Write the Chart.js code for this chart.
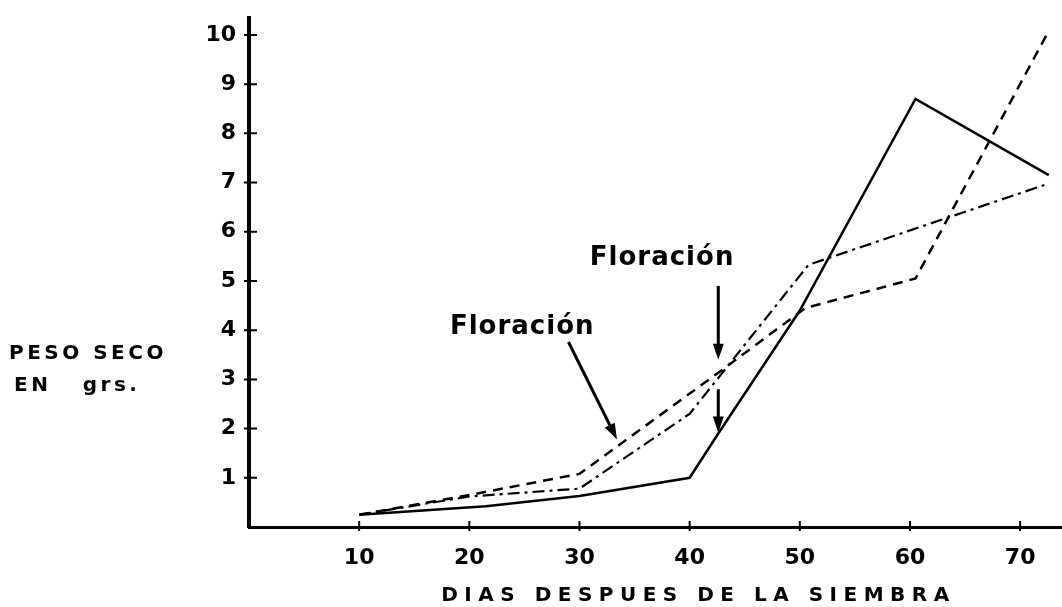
<!DOCTYPE html>
<html>
<head>
<meta charset="utf-8">
<script src="https://cdn.jsdelivr.net/npm/chart.js@4.4.1/dist/chart.umd.min.js"></script>
<style>
  html, body { margin: 0; padding: 0; background: #fff; }
  #wrap { width: 1062px; height: 607px; }
</style>
</head>
<body>
<div id="wrap"><canvas id="mycanvas" width="1062" height="607"></canvas></div>
<script>
// days after sowing / dry weight (grs)
var dias_solida = [10, 21.5, 30, 40, 42.6, 50, 60.5, 72.6];
var peso_solida = [0.25, 0.42, 0.63, 1.0, 1.9, 4.4, 8.7, 7.15];

var dias_guiones = [10, 20, 30, 43, 50.5, 60.5, 72.4];
var peso_guiones = [0.25, 0.65, 1.08, 3.2, 4.45, 5.05, 10.0];

var dias_punto = [10, 20, 30, 40, 50.8, 72.2];
var peso_punto = [0.25, 0.62, 0.78, 2.3, 5.33, 6.95];

var ticks_x = [10, 20, 30, 40, 50, 60, 70];
var ticks_y = [1, 2, 3, 4, 5, 6, 7, 8, 9, 10];

var titulo_x = 'DIAS DESPUES DE LA SIEMBRA';
var titulo_y = ['PESO SECO', 'EN   grs.'];
var nota = 'Floración';

// annotation anchors in data units (x = days, y = grs)
var notas = [
    { texto: nota, x: 24.8, y: 4.06, flechas: [[29.0, 3.76, 33.4, 1.78]] },
    { texto: nota, x: 37.5, y: 5.47, flechas: [[42.6, 4.9, 42.6, 3.4], [42.6, 2.8, 42.6, 1.92]] }
];

function pares(xs, ys) {
    var out = [];
    for (var i in xs) {
        out.push({ x: xs[i], y: ys[i] });
    }
    return out;
}

function flecha(ctx, x1, y1, x2, y2) {
    var ang = Math.atan2(y2 - y1, x2 - x1);
    var largo = 16, ancho = 5.5;
    ctx.beginPath();
    ctx.moveTo(x1, y1);
    ctx.lineTo(x2 - Math.cos(ang) * largo * 0.6, y2 - Math.sin(ang) * largo * 0.6);
    ctx.stroke();
    ctx.beginPath();
    ctx.moveTo(x2, y2);
    ctx.lineTo(x2 - Math.cos(ang) * largo - Math.sin(ang) * ancho, y2 - Math.sin(ang) * largo + Math.cos(ang) * ancho);
    ctx.lineTo(x2 - Math.cos(ang) * largo + Math.sin(ang) * ancho, y2 - Math.sin(ang) * largo - Math.cos(ang) * ancho);
    ctx.closePath();
    ctx.fill();
}

var dibujoExtra = {
    id: 'dibujoExtra',
    afterDraw: function (chart) {
        var ctx = chart.ctx;
        var sx = chart.scales.x, sy = chart.scales.y;
        var area = chart.chartArea;
        ctx.save();
        ctx.strokeStyle = '#000';
        ctx.fillStyle = '#000';

        // cross ticks on both axes
        ctx.lineWidth = 2;
        ctx.beginPath();
        for (var i in ticks_y) {
            var py = sy.getPixelForValue(ticks_y[i]);
            ctx.moveTo(area.left - 5, py);
            ctx.lineTo(area.left + 8, py);
        }
        for (var j in ticks_x) {
            var px = sx.getPixelForValue(ticks_x[j]);
            ctx.moveTo(px, area.bottom - 6);
            ctx.lineTo(px, area.bottom + 4);
        }
        ctx.stroke();

        // Floración notes with arrows
        ctx.font = 'bold 26px "DejaVu Sans"';
        ctx.textAlign = 'center';
        ctx.textBaseline = 'middle';
        ctx.letterSpacing = '1px';
        ctx.lineWidth = 3;
        for (var k in notas) {
            var n = notas[k];
            ctx.fillText(n.texto, sx.getPixelForValue(n.x), sy.getPixelForValue(n.y));
            for (var f in n.flechas) {
                var a = n.flechas[f];
                flecha(ctx, sx.getPixelForValue(a[0]), sy.getPixelForValue(a[1]),
                    sx.getPixelForValue(a[2]), sy.getPixelForValue(a[3]));
            }
        }

        // axis titles
        ctx.font = 'bold 20px "DejaVu Sans"';
        ctx.letterSpacing = '6.5px';
        ctx.fillText(titulo_x, sx.getPixelForValue(40.8), area.bottom + 69);

        ctx.textAlign = 'left';
        ctx.letterSpacing = '3.5px';
        ctx.fillText(titulo_y[0], 9, sy.getPixelForValue(3.53));
        ctx.fillText(titulo_y[1], 14, sy.getPixelForValue(2.86));
        ctx.restore();
    }
};

var chartdata = {
    datasets: [
        {
            label: 'solida',
            data: pares(dias_solida, peso_solida),
            borderColor: '#000',
            borderWidth: 2.5,
            pointRadius: 0,
            tension: 0
        },
        {
            label: 'guiones',
            data: pares(dias_guiones, peso_guiones),
            borderColor: '#000',
            borderWidth: 2.5,
            borderDash: [10, 7],
            pointRadius: 0,
            tension: 0
        },
        {
            label: 'punto y raya',
            data: pares(dias_punto, peso_punto),
            borderColor: '#000',
            borderWidth: 2.2,
            borderDash: [12, 5, 3, 5],
            pointRadius: 0,
            tension: 0
        }
    ]
};

var ctx = document.getElementById('mycanvas');
var myLineChart = new Chart(ctx, {
    type: 'line',
    data: chartdata,
    plugins: [dibujoExtra],
    options: {
        responsive: false,
        animation: false,
        layout: { padding: { top: 13, right: 0, left: 0, bottom: 0 } },
        plugins: {
            legend: { display: false },
            tooltip: { enabled: false }
        },
        scales: {
            x: {
                type: 'linear',
                min: 0,
                max: 73.8,
                grid: { display: false },
                border: { display: true, color: '#000', width: 3 },
                ticks: {
                    stepSize: 10,
                    includeBounds: false,
                    padding: 10,
                    color: '#000',
                    font: { family: 'DejaVu Sans', size: 22, weight: 'bold' },
                    maxRotation: 0,
                    callback: function (v) { return v === 0 ? '' : v; }
                },
                afterFit: function (s) { s.height = 80; }
            },
            y: {
                min: 0,
                max: 10.34,
                grid: { display: false },
                border: { display: true, color: '#000', width: 4 },
                ticks: {
                    stepSize: 1,
                    includeBounds: false,
                    padding: 5,
                    color: '#000',
                    font: { family: 'DejaVu Sans', size: 22, weight: 'bold' },
                    callback: function (v) { return v === 0 ? '' : v; }
                },
                afterFit: function (s) { s.width = 249; }
            }
        }
    }
});
</script>
</body>
</html>
